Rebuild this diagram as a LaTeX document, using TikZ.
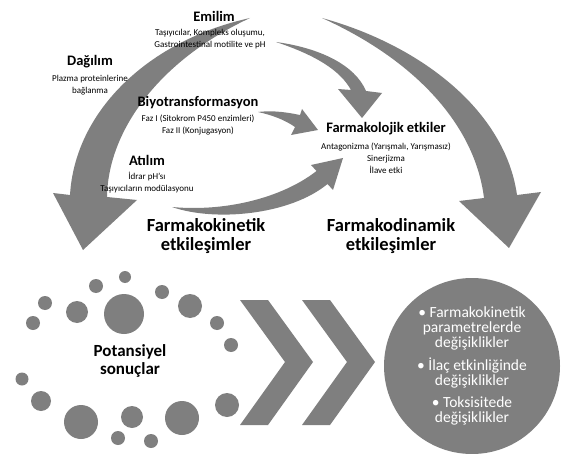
\documentclass[tikz,border=0pt]{standalone}
\usepackage{fontspec}
\setmainfont{Carlito}
\definecolor{shapeGray}{RGB}{127,127,127}

\begin{document}
\begin{tikzpicture}
[x=1pt,y=-1pt,
  headDecorate/.style={inner sep=0pt,font=\bfseries\fontsize{14.5}{16}\selectfont},%
  smallDecorate/.style={inner sep=0pt,align=center,font=\fontsize{9}{12}\selectfont},%
  bigDecorate/.style={inner sep=0pt,align=center,font=\bfseries\fontsize{18.5}{19.5}\selectfont},%
  arrowDecorate/.style={fill=shapeGray},%
  dotDecorate/.style={shape=circle,inner sep=0pt,fill=shapeGray}]
\useasboundingbox (0,0) rectangle (561,454);

%% big curved arrows
\fill[arrowDecorate] (250,18) .. controls (150,40) and (75,110) .. (70,195)
  -- (53,193) -- (83,250) -- (137,200) -- (107,197)
  .. controls (108,130) and (160,60) .. (250,18) -- cycle;
\fill[arrowDecorate] (322,18) .. controls (420,45) and (505,110) .. (517,195)
  -- (541,192) -- (509,248) -- (459,201) -- (484,198)
  .. controls (475,125) and (415,60) .. (322,18) -- cycle;

%% small arrows into the effects
\fill[arrowDecorate] (276,42) .. controls (320,48) and (355,65) .. (366,91)
  -- (382,93) -- (362,118) -- (338,89) -- (351,90)
  .. controls (340,70) and (315,55) .. (276,42) -- cycle;
\fill[arrowDecorate] (258,112) .. controls (275,110) and (290,113) .. (300,115)
  -- (302,109) -- (318,130) -- (291,135) -- (295,127)
  .. controls (285,120) and (272,115) .. (258,112) -- cycle;
\fill[arrowDecorate] (172,207) .. controls (215,222) and (290,215) .. (327.5,184)
  -- (333,190) -- (343,158) -- (311,165) -- (316.5,171)
  .. controls (282,198) and (225,212) .. (172,207) -- cycle;

%% labels of the upper part
\node (emilim) at (214,16) [headDecorate] {Emilim};
\node (emilimtxt) at (210,39) [smallDecorate] {Taşıyıcılar, Kompleks oluşumu,\\Gastrointestinal motilite ve pH};
\node (dagilim) at (90,62) [headDecorate] {Dağılım};
\node (dagilimtxt) at (90,85) [smallDecorate] {Plazma proteinlerine\\bağlanma};
\node (biyo) at (198,103) [headDecorate] {Biyotransformasyon};
\node (biyotxt) at (198,124.5) [smallDecorate] {Faz I (Sitokrom P450 enzimleri)\\Faz II (Konjugasyon)};
\node (atilim) at (147,160) [headDecorate] {Atılım};
\node (atilimtxt) at (147,182.5) [smallDecorate] {İdrar pH'sı\\Taşıyıcıların modülasyonu};
\node (etki) at (386,129) [headDecorate] {Farmakolojik etkiler};
\node (etkitxt) at (386,158) [smallDecorate] {Antagonizma (Yarışmalı, Yarışmasız)\\Sinerjizma\\İlave etki};
\node (kinetik) at (206,236) [bigDecorate] {Farmakokinetik\\etkileşimler};
\node (dinamik) at (391,236) [bigDecorate] {Farmakodinamik\\etkileşimler};

%% dots round the outcomes
\foreach \nodename/\x/\y/\d in {
  1/125/277/12, 2/96/286/14, 3/162/292/14, 4/45/303/14, 5/77/312/22,
  6/124/314/40, 7/190/306/24, 8/33/323/14, 9/217/323/14, 10/231/345/14,
  11/22/379/13, 12/41/401/20, 13/81/422/34, 14/132/417/22, 15/182/418/34,
  16/227/405/24, 17/118/438/14, 18/151/441/14}
{
  \node (\nodename) at (\x,\y) [dotDecorate,minimum size=\d pt] {};
}
\node (sonuc) at (130,361) [bigDecorate,font=\bfseries\fontsize{17}{18}\selectfont] {Potansiyel\\sonuçlar};

%% chevrons
\foreach \dx in {0,62}
{
  \fill[arrowDecorate] (240+\dx,300) -- (268+\dx,300) -- (313+\dx,362)
    -- (268+\dx,425) -- (240+\dx,425) -- (285+\dx,362) -- cycle;
}

%% result circle
\node (degisim) at (472,366) [dotDecorate,minimum size=176pt,align=center,text=white,
  font=\fontsize{15.5}{15}\selectfont]
  {• Farmakokinetik\\parametrelerde\\değişiklikler\\[6pt]• İlaç etkinliğinde\\değişiklikler\\[7pt]• Toksisitede\\değişiklikler};
\end{tikzpicture}
\end{document}
